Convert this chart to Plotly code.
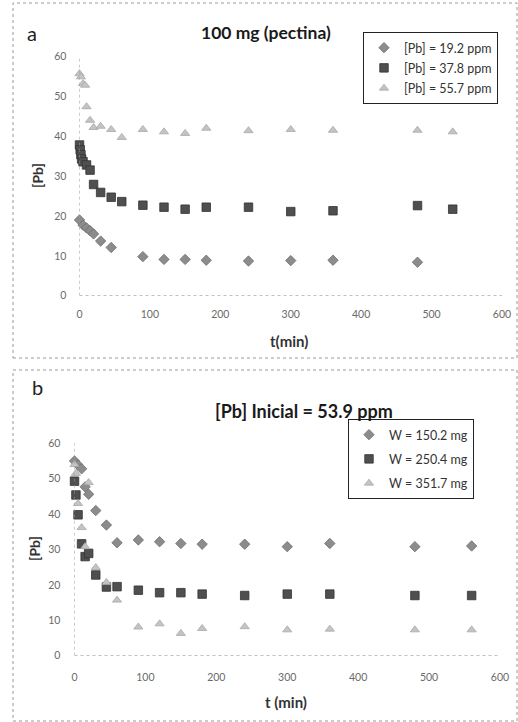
import plotly.graph_objects as go

W, H = 518, 722

# ---- Panel a data: 100 mg (pectina) ----
ta_1 = [0, 5, 10, 15, 20, 30, 45, 90, 120, 150, 180, 240, 300, 360, 480]
pa_1 = [19.0, 17.7, 17.0, 16.3, 15.5, 13.7, 12.1, 9.8, 9.1, 9.1, 8.9, 8.7, 8.8, 8.9, 8.4]

ta_2 = [0, 1, 2, 3, 5, 10, 15, 20, 30, 45, 60, 90, 120, 150, 180, 240, 300, 360, 480, 530]
pa_2 = [37.8, 36.6, 35.4, 34.3, 33.6, 32.8, 31.5, 27.9, 25.9, 24.7, 23.6, 22.7, 22.2, 21.7, 22.2, 22.2, 21.1, 21.3, 22.6, 21.7]

ta_3 = [0, 2, 5, 8, 10, 15, 20, 30, 45, 60, 90, 120, 150, 180, 240, 300, 360, 480, 530]
pa_3 = [55.7, 54.9, 53.2, 52.8, 47.4, 44.0, 42.2, 42.5, 41.7, 39.7, 41.7, 41.1, 40.7, 42.0, 41.4, 41.7, 41.5, 41.5, 41.1]

names_a = ["[Pb] = 19.2 ppm", "[Pb] = 37.8 ppm", "[Pb] = 55.7 ppm"]

# ---- Panel b data: [Pb] inicial = 53.9 ppm ----
tb_1 = [0, 5, 10, 15, 20, 30, 45, 60, 90, 120, 150, 180, 240, 300, 360, 480, 560]
pb_1 = [55.0, 53.9, 52.8, 47.7, 45.6, 41.0, 36.9, 31.9, 32.7, 32.2, 31.7, 31.5, 31.5, 30.8, 31.7, 30.8, 31.0]

tb_2 = [0, 2, 5, 10, 15, 20, 30, 45, 60, 90, 120, 150, 180, 240, 300, 360, 480, 560]
pb_2 = [49.3, 45.4, 39.8, 31.6, 28.0, 28.9, 22.8, 19.4, 19.5, 18.5, 17.8, 17.8, 17.4, 17.0, 17.4, 17.4, 17.0, 17.0]

tb_3 = [0, 2, 5, 10, 15, 20, 30, 45, 60, 90, 120, 150, 180, 240, 300, 360, 480, 560]
pb_3 = [54.0, 51.5, 43.0, 36.2, 30.8, 48.9, 24.9, 20.7, 15.7, 8.1, 9.0, 6.3, 7.7, 8.2, 7.3, 7.5, 7.3, 7.3]

names_b = ["W = 150.2 mg", "W = 250.4 mg", "W = 351.7 mg"]

x_ticks = [0, 100, 200, 300, 400, 500, 600]
y_ticks = [0, 10, 20, 30, 40, 50, 60]

FONT = "Lato, 'Open Sans', sans-serif"
symbols = ["diamond", "square", "triangle-up"]
colors = ["#8c8c8c", "#4f4f4f", "#c4c4c4"]
lines = ["#6e6e6e", "#333333", "#a8a8a8"]
sizes = [8, 8.5, 8]

def px(x):
    return x / W

def py(y):
    return 1 - y / H

fig = go.Figure()

for i, (t, v) in enumerate([(ta_1, pa_1), (ta_2, pa_2), (ta_3, pa_3)]):
    fig.add_trace(go.Scatter(
        x=t, y=v, mode="markers", name=names_a[i], legend="legend",
        legendgroup="a%d" % i, xaxis="x", yaxis="y", cliponaxis=False,
        marker=dict(symbol=symbols[i], size=sizes[i], color=colors[i],
                    line=dict(color=lines[i], width=0.8))))

for i, (t, v) in enumerate([(tb_1, pb_1), (tb_2, pb_2), (tb_3, pb_3)]):
    fig.add_trace(go.Scatter(
        x=t, y=v, mode="markers", name=names_b[i], legend="legend2",
        legendgroup="b%d" % i, xaxis="x2", yaxis="y2", cliponaxis=False,
        marker=dict(symbol=symbols[i], size=sizes[i], color=colors[i],
                    line=dict(color=lines[i], width=0.8))))

axis_common = dict(showgrid=False, zeroline=False, showline=False, automargin=False,
                   tickfont=dict(family=FONT, size=10.5, color="#6a6a6a"),
                   ticks="outside", tickcolor="rgba(0,0,0,0)")

shapes = []
# panel borders
for (x0, y0, x1, y1) in [(13, 3, 517, 358), (13, 370, 517, 721)]:
    shapes.append(dict(type="rect", xref="paper", yref="paper",
                       x0=px(x0), x1=px(x1), y0=py(y1), y1=py(y0),
                       line=dict(color="#9a9a9a", width=1, dash="dot")))
# dotted axis lines
for xa, ya in [("x", "y"), ("x2", "y2")]:
    shapes.append(dict(type="line", xref=xa, yref=ya, x0=0, x1=600, y0=0, y1=0,
                       line=dict(color="#9a9a9a", width=1, dash="dot")))
    shapes.append(dict(type="line", xref=xa, yref=ya, x0=0, x1=0, y0=0, y1=60,
                       line=dict(color="#9a9a9a", width=1, dash="dot")))

def ann(text, x, y, size, color="#222", angle=0):
    return dict(text=text, x=px(x), y=py(y), xref="paper", yref="paper",
                xanchor="center", yanchor="middle", showarrow=False, textangle=angle,
                font=dict(family=FONT, size=size, color=color))

annotations = [
    ann("a", 32, 33, 20),
    ann("<b>100 mg (pectina)</b>", 266, 32, 17.5, "#1a1a1a"),
    ann("<b>[Pb]</b>", 37, 176, 14, "#333", -90),
    ann("<b>t(min)</b>", 289, 341, 15, "#333"),
    ann("b", 37, 387, 20),
    ann("<b>[Pb] Inicial = 53.9 ppm</b>", 304, 411, 18, "#1a1a1a"),
    ann("<b>[Pb]</b>", 34, 549, 14, "#333", -90),
    ann("<b>t (min)</b>", 286, 702, 15, "#333"),
]

legend_common = dict(bgcolor="white", bordercolor="#222", borderwidth=1,
                     font=dict(family=FONT, size=12.5, color="#333"),
                     xanchor="right", yanchor="top", itemwidth=30)

fig.update_layout(
    width=W, height=H, margin=dict(l=0, r=0, t=0, b=0, pad=0, autoexpand=False),
    paper_bgcolor="white", plot_bgcolor="white",
    showlegend=True,
    xaxis=dict(domain=[px(79.5), px(502)], range=[0, 600], tickvals=x_ticks,
               anchor="y", ticklen=9, **axis_common),
    yaxis=dict(domain=[py(295.7), py(56.5)], range=[0, 60], tickvals=y_ticks,
               anchor="x", ticklen=10, **axis_common),
    xaxis2=dict(domain=[px(74.5), px(500)], range=[0, 600], tickvals=x_ticks,
                anchor="y2", ticklen=12, **axis_common),
    yaxis2=dict(domain=[py(655.7), py(443.3)], range=[0, 60], tickvals=y_ticks,
                anchor="x2", ticklen=11, **axis_common),
    legend=dict(x=px(498), y=py(32), tracegroupgap=1, **legend_common),
    legend2=dict(x=px(474), y=py(419), tracegroupgap=5, **legend_common),
    shapes=shapes,
    annotations=annotations,
)

fig.write_html("out.html", config={"displayModeBar": False},
               post_script="document.body.style.margin='0';document.body.style.overflow='hidden';")
